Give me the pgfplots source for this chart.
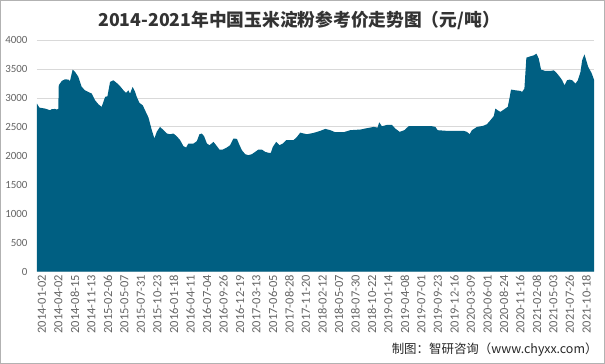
\documentclass[border=0pt]{standalone}
\usepackage{pgfplots}
\pgfplotsset{compat=1.18}
\usepackage{fontspec}
\setmainfont{Carlito}
\newfontfamily\cjk{Noto Sans CJK SC}
\definecolor{areafill}{RGB}{0,95,130}
\definecolor{tickgray}{RGB}{100,100,100}
\definecolor{gridgray}{RGB}{217,217,217}
\begin{document}
\begin{tikzpicture}
\path[use as bounding box] (0,0) rectangle (605bp,364bp);
\draw[gray!60, line width=1bp] (0.5bp,0.5bp) rectangle (604.5bp,363.5bp);
\node[font=\cjk\bfseries\fontsize{17.8}{20}\selectfont, text=black!80] at (299bp,344bp) {2014-2021年中国玉米淀粉参考价走势图（元/吨）};
\begin{axis}[
  at={(37bp,92.3bp)}, anchor=south west,
  scale only axis, width=557bp, height=231.7bp,
  xmin=0, xmax=33.77, ymin=0, ymax=4000,
  axis line style={draw=none},
  major tick length=0pt,
  ytick={0,500,...,4000},
  ymajorgrids, grid style={gridgray, line width=0.8bp},
  xtick={0,...,33},
  xticklabels={2014-01-02,2014-04-02,2014-08-15,2014-11-13,2015-02-06,2015-05-07,2015-07-31,2015-10-23,2016-01-18,2016-04-11,2016-07-04,2016-09-26,2016-12-19,2017-03-13,2017-06-05,2017-08-28,2017-11-20,2018-02-12,2018-05-07,2018-07-30,2018-10-22,2019-01-14,2019-04-08,2019-07-01,2019-09-23,2019-12-16,2020-03-09,2020-06-01,2020-08-24,2020-11-16,2021-02-08,2021-05-03,2021-07-26,2021-10-18},
  xticklabel style={rotate=90, anchor=east, font=\fontsize{12.5}{13}\selectfont, text=tickgray, yshift=-5bp},
  yticklabel style={font=\fontsize{11}{12}\selectfont, text=tickgray, xshift=-6bp},
  /pgf/number format/assume math mode=true,
  /pgf/number format/1000 sep={},
  clip=false,
]
\addplot[fill=areafill, draw=none] coordinates {
(0,2900) (0.14,2833) (0.49,2816) (0.79,2787) (0.89,2805) (1.09,2810) (1.19,2800) (1.29,2810)
(1.32,3218) (1.50,3293) (1.70,3322) (1.90,3316) (2.00,3293) (2.16,3488) (2.31,3448) (2.51,3362)
(2.71,3190) (2.91,3132) (3.11,3103) (3.32,3075) (3.52,2960) (3.72,2891) (3.92,2845) (4.13,3017)
(4.27,3029) (4.43,3276) (4.63,3305) (4.83,3259) (5.04,3201) (5.24,3132) (5.40,3086) (5.54,3132)
(5.64,3075) (5.80,3190) (5.95,3103) (6.05,3017) (6.21,2914) (6.41,2873) (6.55,2787) (6.76,2661)
(6.96,2443) (7.12,2299) (7.26,2414) (7.46,2500) (7.67,2443) (7.87,2385) (8.07,2373) (8.27,2385)
(8.47,2339) (8.68,2270) (8.88,2166) (9.04,2144) (9.18,2213) (9.49,2213) (9.69,2253) (9.85,2373)
(9.99,2385) (10.13,2339) (10.30,2213) (10.46,2184) (10.70,2241) (10.86,2184) (11.06,2109) (11.27,2109)
(11.51,2144) (11.71,2184) (11.91,2299) (12.12,2293) (12.28,2184) (12.42,2098) (12.62,2029) (12.82,2011)
(13.03,2029) (13.23,2069) (13.43,2109) (13.63,2109) (13.83,2069) (14.04,2052) (14.18,2052) (14.30,2155)
(14.50,2241) (14.71,2184) (14.91,2213) (15.11,2270) (15.31,2270) (15.55,2270) (15.76,2327) (15.96,2400)
(16.36,2373) (16.77,2396) (17.17,2431) (17.48,2465) (17.78,2443) (18.08,2408) (18.59,2408) (18.99,2443)
(19.60,2454) (20.00,2477) (20.41,2500) (20.65,2488) (20.75,2580) (20.91,2511) (21.22,2534) (21.52,2534)
(21.72,2471) (21.99,2414) (22.27,2443) (22.53,2511) (22.94,2511) (23.44,2511) (23.95,2511) (24.15,2500)
(24.29,2443) (24.86,2431) (25.46,2431) (25.87,2431) (26.07,2414) (26.23,2373) (26.37,2443) (26.68,2500)
(27.04,2517) (27.28,2546) (27.49,2615) (27.69,2684) (27.79,2816) (27.93,2787) (28.09,2759) (28.30,2799)
(28.54,2845) (28.66,3017) (28.74,3144) (29.00,3132) (29.31,3121) (29.41,3103) (29.55,3161) (29.67,3695)
(29.91,3718) (30.12,3735) (30.28,3764) (30.42,3678) (30.56,3488) (30.83,3465) (31.13,3465) (31.33,3477)
(31.50,3431) (31.70,3362) (31.84,3305) (31.98,3218) (32.14,3305) (32.30,3316) (32.44,3305) (32.65,3247)
(32.79,3305) (32.95,3448) (33.05,3649) (33.19,3752) (33.31,3638) (33.42,3534) (33.62,3431) (33.77,3316)
} \closedcycle;
\end{axis}
\node[font=\cjk\fontsize{12.5}{14}\selectfont, anchor=east, text=black!85] at (601bp,14bp) {制图：智研咨询（www.chyxx.com）};
\end{tikzpicture}
\end{document}
